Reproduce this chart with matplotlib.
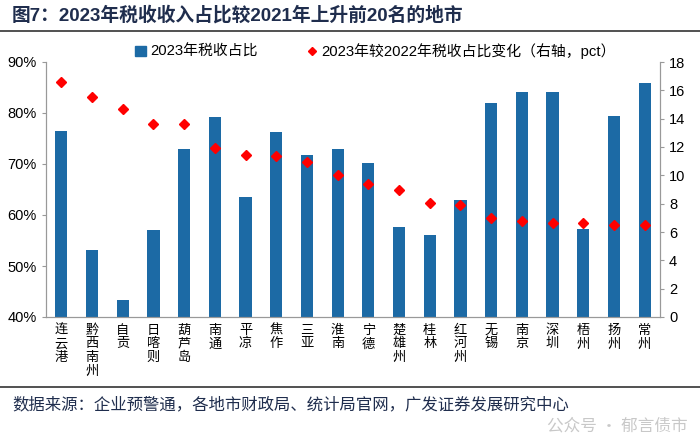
import numpy as np
import matplotlib.pyplot as plt
from matplotlib import rcParams
from matplotlib.lines import Line2D
from matplotlib.patches import Patch

rcParams["font.family"] = ["Liberation Sans", "Noto Sans CJK SC", "DejaVu Sans"]

# data
cities = ["连云港", "黔西南州", "自贡", "日喀则", "葫芦岛", "南通", "平凉", "焦作", "三亚", "淮南",
          "宁德", "楚雄州", "桂林", "红河州", "无锡", "南京", "深圳", "梧州", "扬州", "常州"]
share_2023 = [76.5, 53.2, 43.3, 57.1, 72.9, 79.2, 63.6, 76.2, 71.8, 72.9,
              70.1, 57.7, 56.0, 62.9, 82.0, 84.2, 84.2, 57.2, 79.5, 85.9]
change_pct = [16.6, 15.55, 14.7, 13.6, 13.6, 11.9, 11.45, 11.35, 10.95, 10.05,
              9.4, 9.0, 8.05, 7.9, 7.0, 6.75, 6.65, 6.63, 6.52, 6.48]

bar_color = "#1C6AA5"
navy = "#1F2D4D"

fig = plt.figure(figsize=(7, 4.42), dpi=100)
ax1 = fig.add_axes([46 / 700, 1 - 317 / 442, 614 / 700, 255 / 442])
ax2 = ax1.twinx()

x = np.arange(len(cities))
ax1.bar(x, share_2023, width=0.4, color=bar_color, zorder=2)
ax2.plot(x, change_pct, "D", color="#FF0000", markersize=5.5, zorder=3)

ax1.set_xlim(-0.5, len(cities) - 0.5)
ax1.set_ylim(40, 90)
ax1.set_yticks(np.arange(40, 91, 10))
ax1.set_yticklabels([f"{v}%" for v in range(40, 91, 10)])
ax2.set_ylim(0, 18)
ax2.set_yticks(np.arange(0, 19, 2))

ax1.set_xticks(x)
ax1.set_xticklabels(["\n".join(c) for c in cities], fontsize=9.5,
                    family=["Noto Sans CJK SC"], va="top", linespacing=1.05)
ax1.tick_params(axis="x", length=0, pad=5)
ax1.tick_params(axis="y", labelsize=10.5, length=3, color="#999999")
ax2.tick_params(axis="y", labelsize=10.5, length=3, color="#999999")

for ax in (ax1, ax2):
    ax.spines["top"].set_visible(False)
    for s in ("left", "right", "bottom"):
        ax.spines[s].set_color("#999999")

handles = [Patch(color=bar_color),
           Line2D([], [], marker="D", color="#FF0000", linestyle="none", markersize=4)]
fig.legend(handles, ["2023年税收占比", "2023年较2022年税收占比变化（右轴，pct）"],
           loc="center left", bbox_to_anchor=(122 / 700, 1 - 51 / 442), ncol=2,
           frameon=False, handlelength=0.7, handletextpad=0.3, columnspacing=3.3,
           prop={"family": ["Liberation Sans", "Noto Sans CJK SC"], "size": 10.7})

# title, rules and source note
fig.text(12 / 700, 1 - 15 / 442, "图7：2023年税收收入占比较2021年上升前20名的地市",
         fontsize=13.5, fontweight="bold", color=navy, va="center")
fig.add_artist(Line2D([0, 1], [1 - 31 / 442] * 2, color="#333333", lw=1.2))
fig.add_artist(Line2D([0, 1], [1 - 387 / 442] * 2, color="#333333", lw=1.2))
fig.text(12 / 700, 1 - 405 / 442, "数据来源：企业预警通，各地市财政局、统计局官网，广发证券发展研究中心",
         fontsize=11.8, color=navy, va="center", family=["Noto Sans CJK SC"])
fig.text(688 / 700, 1 - 426 / 442, "公众号 · 郁言债市", fontsize=12, color="#BBBBBB",
         ha="right", va="center", family=["Noto Sans CJK SC"], alpha=0.8)

fig.savefig("out.png", dpi=100)
